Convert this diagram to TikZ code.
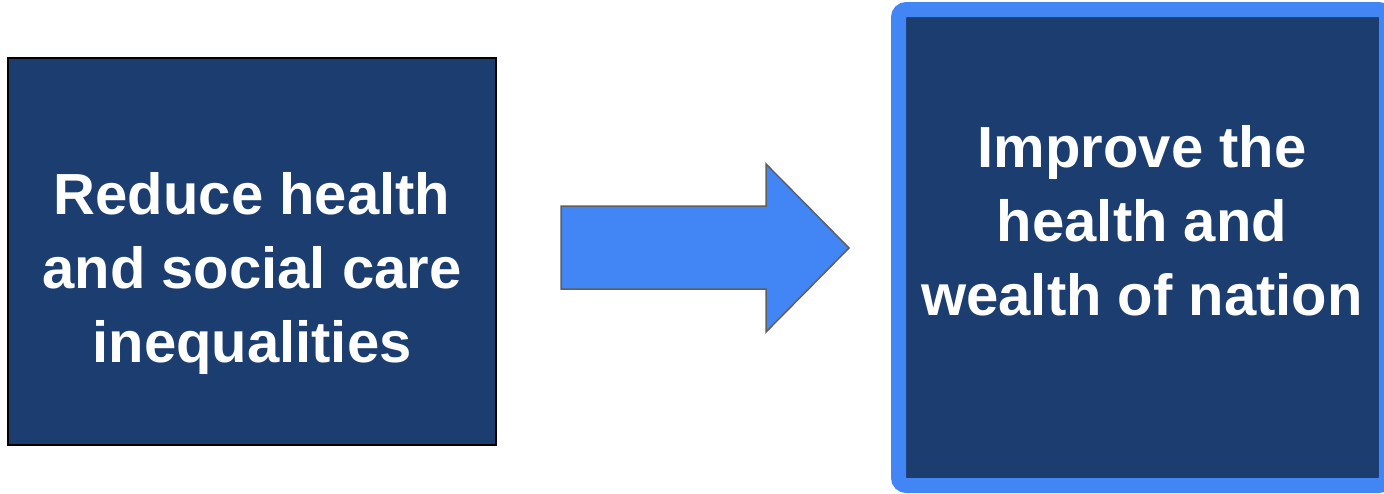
\documentclass[tikz,border=0pt]{standalone}
\usepackage{fontspec}
\setmainfont{Liberation Sans}
\definecolor{navy}{HTML}{1C3D6F}
\definecolor{gblue}{HTML}{4285F4}
\definecolor{edgegray}{HTML}{5F5F5F}
\tikzset{
  label text/.style={text=white, font=\fontsize{58}{74}\selectfont\bfseries, align=center},
}
\begin{document}
\begin{tikzpicture}[x=1pt,y=-1pt]
\useasboundingbox (0,0) rectangle (1384,493);
\begin{scope}
\clip (0,0) rectangle (1384,493);
% left box
\draw[fill=navy, draw=black, line width=2] (8,58) rectangle (496,445);
\coordinate (lc) at (252,273);
\node[label text] (ltext) at (lc) {Reduce health\\and social care\\inequalities};
% arrow
\draw[fill=gblue, draw=edgegray, line width=1.5, line join=miter]
  (561,206) -- (766,206) -- (766,164) -- (849,248) -- (766,332) -- (766,289) -- (561,289) -- cycle;
% right box
\draw[fill=navy, draw=gblue, line width=15, rounded corners=8] (898.5,9.5) rectangle (1386.5,485.5);
\node[label text] (rtext) at (1142,221) {Improve the\\health and\\wealth of nation};
\end{scope}
\end{tikzpicture}
\end{document}
